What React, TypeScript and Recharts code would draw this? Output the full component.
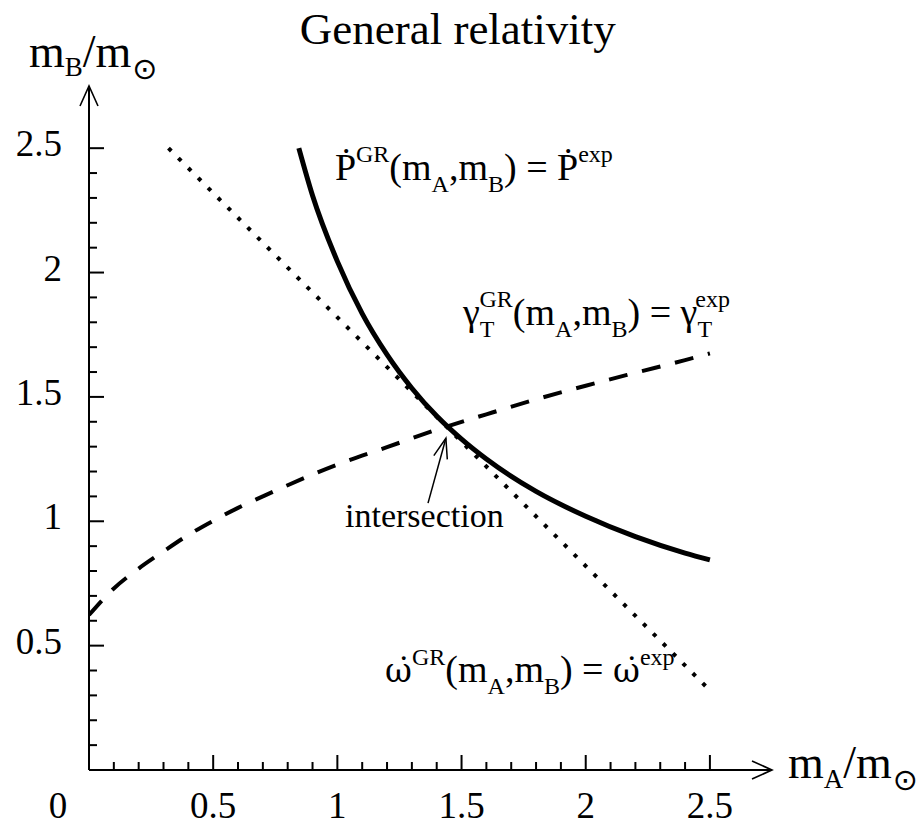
import { LineChart, Line, XAxis, YAxis, ReferenceDot, ReferenceLine } from "recharts";

const SERIF = '"Liberation Serif", "Times New Roman", Times, serif';
const ACCENT_SERIF = '"DejaVu Serif", serif';
const SYMBOL = '"DejaVu Sans", sans-serif';
const INK = "#000";

// Pdot curve (solid)
const PDOT_MA = [0.845, 0.9, 1.0, 1.1, 1.2, 1.3, 1.4, 1.5, 1.6, 1.8, 2.0, 2.2, 2.4, 2.5];
const PDOT_MB = [2.5, 2.31, 2.045, 1.835, 1.67, 1.535, 1.423, 1.33, 1.25, 1.12, 1.02, 0.938, 0.872, 0.845];

// omega-dot line (dotted)
const OMDOT_MA = [0.32, 2.5];
const OMDOT_MB = [2.5, 0.32];

// gamma curve (dashed)
const GAMMA_MA = [0, 0.1, 0.2, 0.3, 0.4, 0.5, 0.6, 0.7, 0.8, 0.9, 1.0, 1.2, 1.4, 1.6, 1.8, 2.0, 2.2, 2.4, 2.5];
const GAMMA_MB = [0.623, 0.73, 0.81, 0.879, 0.945, 1.002, 1.054, 1.1, 1.145, 1.188, 1.228, 1.298, 1.368, 1.43, 1.49, 1.545, 1.597, 1.648, 1.675];

const X_TICKS = [
  0, 0.1, 0.2, 0.3, 0.4, 0.5, 0.6, 0.7, 0.8, 0.9, 1, 1.1, 1.2, 1.3, 1.4, 1.5, 1.6, 1.7, 1.8, 1.9, 2,
  2.1, 2.2, 2.3, 2.4, 2.5,
];
const Y_TICKS = [
  0.1, 0.2, 0.3, 0.4, 0.5, 0.6, 0.7, 0.8, 0.9, 1, 1.1, 1.2, 1.3, 1.4, 1.5, 1.6, 1.7, 1.8, 1.9, 2, 2.1,
  2.2, 2.3, 2.4, 2.5,
];

// arrow to the crossing point (tail -> tip)
const ARROW_TAIL = { mA: 1.365, mB: 1.073 };
const ARROW_TIP = { mA: 1.437, mB: 1.334 };

const toPoints = (xs: number[], ys: number[]) => xs.map((x, i) => ({ mA: x, mB: ys[i] }));

const pdot = toPoints(PDOT_MA, PDOT_MB);
const omdot = toPoints(OMDOT_MA, OMDOT_MB);
const gamma = toPoints(GAMMA_MA, GAMMA_MB);

const isMajor = (v: number) => Math.abs(v * 2 - Math.round(v * 2)) < 1e-6;

function XTick({ x, y, payload }: any) {
  const v = payload.value;
  const major = isMajor(v);
  return (
    <g>
      {v !== 0 && (
        <line x1={x} y1={y} x2={x} y2={y - (major ? 15 : 8)} stroke={INK} strokeWidth={2} />
      )}
      {major && (
        <text x={v === 0 ? x - 31 : x} y={y + 48} textAnchor="middle" fontFamily={SERIF} fontSize={37} fill={INK}>
          {String(v)}
        </text>
      )}
    </g>
  );
}

function YTick({ x, y, payload }: any) {
  const v = payload.value;
  const major = isMajor(v);
  return (
    <g>
      <line x1={x} y1={y} x2={x + (major ? 15 : 8)} y2={y} stroke={INK} strokeWidth={2} />
      {major && (
        <text x={x - 27} y={y + 8} textAnchor="end" fontFamily={SERIF} fontSize={37} fill={INK}>
          {String(v)}
        </text>
      )}
    </g>
  );
}

const SUP = 24;
const MAIN = 38;

// omega-dot, set in a font that stacks the combining dot properly
const OMEGA_DOT = "ω\u0307";

const title = ({ cx, cy }: any) => (
  <text x={cx} y={cy} textAnchor="middle" fontFamily={SERIF} fontSize={45} fill={INK}>
    General relativity
  </text>
);

const yName = ({ cx, cy }: any) => (
  <text x={cx - 60} y={cy} fontFamily={SERIF} fontSize={46} fill={INK}>
    m
    <tspan fontSize={27} dy={9}>B</tspan>
    <tspan dy={-9}>/m</tspan>
    <tspan fontFamily={SYMBOL} fontSize={30} dx={1} dy={12}>⊙</tspan>
  </text>
);

const xName = ({ cx, cy }: any) => (
  <text x={cx + 16} y={cy + 8} fontFamily={SERIF} fontSize={46} fill={INK}>
    m
    <tspan fontSize={27} dy={10}>A</tspan>
    <tspan dy={-10}>/m</tspan>
    <tspan fontFamily={SYMBOL} fontSize={30} dx={1} dy={12}>⊙</tspan>
  </text>
);

const pdotLabel = ({ cx, cy }: any) => (
  <text x={cx} y={cy} fontFamily={SERIF} fontSize={MAIN} fill={INK}>
    Ṗ
    <tspan fontSize={SUP} dy={-18}>GR</tspan>
    <tspan dy={18}>(m</tspan>
    <tspan fontSize={SUP} dy={12}>A</tspan>
    <tspan dy={-12}>,m</tspan>
    <tspan fontSize={SUP} dy={12}>B</tspan>
    <tspan dy={-12}>) = Ṗ</tspan>
    <tspan fontSize={SUP} dy={-18}>exp</tspan>
  </text>
);

const gammaLabel = ({ cx, cy }: any) => (
  <text x={cx} y={cy} fontFamily={SERIF} fontSize={MAIN} fill={INK}>
    γ
    <tspan fontSize={SUP} dy={12}>T</tspan>
    <tspan fontSize={SUP} dx={-15} dy={-30}>GR</tspan>
    <tspan dy={18}>(m</tspan>
    <tspan fontSize={SUP} dy={12}>A</tspan>
    <tspan dy={-12}>,m</tspan>
    <tspan fontSize={SUP} dy={12}>B</tspan>
    <tspan dy={-12}>) = γ</tspan>
    <tspan fontSize={SUP} dy={12}>T</tspan>
    <tspan fontSize={SUP} dx={-15} dy={-30}>exp</tspan>
  </text>
);

const omdotLabel = ({ cx, cy }: any) => (
  <text x={cx} y={cy} fontFamily={SERIF} fontSize={MAIN} fill={INK}>
    <tspan fontFamily={ACCENT_SERIF} fontSize={33}>{OMEGA_DOT}</tspan>
    <tspan fontSize={SUP} dy={-17}>GR</tspan>
    <tspan dy={17}>(m</tspan>
    <tspan fontSize={SUP} dy={12}>A</tspan>
    <tspan dy={-12}>,m</tspan>
    <tspan fontSize={SUP} dy={12}>B</tspan>
    <tspan dy={-12}>{") = "}</tspan>
    <tspan fontFamily={ACCENT_SERIF} fontSize={33}>{OMEGA_DOT}</tspan>
    <tspan fontSize={SUP} dy={-17}>exp</tspan>
  </text>
);

const crossLabel = ({ cx, cy }: any) => (
  <text x={cx} y={cy} fontFamily={SERIF} fontSize={34} fill={INK}>
    intersection
  </text>
);

const xArrow = ({ cx, cy }: any) => (
  <path d={`M${cx - 20},${cy - 9} L${cx},${cy} L${cx - 20},${cy + 9}`} fill="none" stroke={INK} strokeWidth={1.6} />
);

const yArrow = ({ cx, cy }: any) => (
  <path d={`M${cx - 9},${cy + 20} L${cx},${cy} L${cx + 9},${cy + 20}`} fill="none" stroke={INK} strokeWidth={1.6} />
);

// chevron head, rotated to follow the arrow shaft (-74.5 deg in screen space)
const crossArrowHead = ({ cx, cy }: any) => (
  <path
    d="M-20,-7 L0,0 L-20,7"
    transform={`translate(${cx},${cy}) rotate(-74.5)`}
    fill="none"
    stroke={INK}
    strokeWidth={1.5}
  />
);

export default function App() {
  return (
    <div style={{ position: "absolute", left: 0, top: 0, background: "#fff" }}>
      <LineChart width={922} height={827} margin={{ top: 86, right: 150, bottom: 27, left: 29 }}>
        <XAxis
          type="number"
          dataKey="mA"
          domain={[0, 2.75]}
          allowDataOverflow
          ticks={X_TICKS}
          interval={0}
          tickSize={0}
          tickMargin={0}
          tickLine={false}
          height={30}
          axisLine={{ stroke: INK, strokeWidth: 2 }}
          tick={XTick}
        />
        <YAxis
          type="number"
          domain={[0, 2.75]}
          allowDataOverflow
          ticks={Y_TICKS}
          interval={0}
          tickSize={0}
          tickMargin={0}
          tickLine={false}
          width={60}
          axisLine={{ stroke: INK, strokeWidth: 2 }}
          tick={YTick}
        />

        <Line
          data={gamma}
          dataKey="mB"
          type="monotone"
          stroke={INK}
          strokeWidth={4}
          strokeDasharray="19 15"
          dot={false}
          activeDot={false}
          isAnimationActive={false}
        />
        <Line
          data={omdot}
          dataKey="mB"
          type="linear"
          stroke={INK}
          strokeWidth={4}
          strokeDasharray="4 10"
          dot={false}
          activeDot={false}
          isAnimationActive={false}
        />
        <Line
          data={pdot}
          dataKey="mB"
          type="monotone"
          stroke={INK}
          strokeWidth={5}
          dot={false}
          activeDot={false}
          isAnimationActive={false}
        />

        <ReferenceLine
          segment={[ARROW_TAIL, ARROW_TIP].map((p) => ({ x: p.mA, y: p.mB }))}
          stroke={INK}
          strokeWidth={1.5}
          ifOverflow="visible"
        />
        <ReferenceDot x={ARROW_TIP.mA} y={ARROW_TIP.mB} r={0} ifOverflow="visible" shape={crossArrowHead} />

        <ReferenceDot x={2.75} y={0} r={0} ifOverflow="visible" shape={xArrow} />
        <ReferenceDot x={0} y={2.75} r={0} ifOverflow="visible" shape={yArrow} />

        <ReferenceDot x={1.485} y={2.92} r={0} ifOverflow="visible" shape={title} />
        <ReferenceDot x={0} y={2.825} r={0} ifOverflow="visible" shape={yName} />
        <ReferenceDot x={2.75} y={0} r={0} ifOverflow="visible" shape={xName} />

        <ReferenceDot x={0.99} y={2.371} r={0} ifOverflow="visible" shape={pdotLabel} />
        <ReferenceDot x={1.506} y={1.789} r={0} ifOverflow="visible" shape={gammaLabel} />
        <ReferenceDot x={1.192} y={0.354} r={0} ifOverflow="visible" shape={omdotLabel} />
        <ReferenceDot x={1.031} y={0.977} r={0} ifOverflow="visible" shape={crossLabel} />
      </LineChart>
    </div>
  );
}
